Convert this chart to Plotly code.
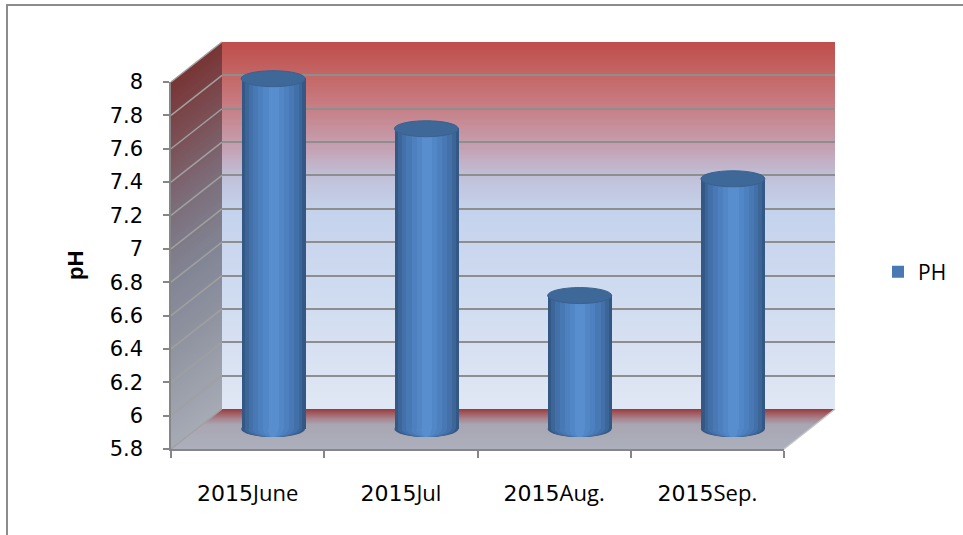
import plotly.graph_objects as go
import numpy as np

# ---------------- data ----------------
categories = ["2015June", "2015Jul", "2015Aug.", "2015Sep."]
label_years = ["2015", "2015", "2015", "2015"]
label_months = ["June", "Jul", "Aug.", "Sep."]
ph_values = [7.9, 7.6, 6.6, 7.3]
series_name = "PH"
y_ticks = [5.8, 6.0, 6.2, 6.4, 6.6, 6.8, 7.0, 7.2, 7.4, 7.6, 7.8, 8.0]
y_min, y_max = 5.8, 8.0
y_title = "pH"

# ---------------- geometry (pixels) ----------------
W, H = 963, 535
def px(x): return x / W
def py(y): return 1 - y / H

FRONT_L, FRONT_R = 171, 784
FRONT_BOT, FRONT_TOP = 449, 82
DX, DY = 51, -40
UNIT = (FRONT_BOT - FRONT_TOP) / (y_max - y_min)
CAT_W = (FRONT_R - FRONT_L) / len(categories)

def yf(v, depth=0.0):
    return FRONT_BOT - (v - y_min) * UNIT + DY * depth

def rgb(c):
    return "rgb(%d,%d,%d)" % tuple(int(round(x)) for x in c)

def interp(stops, t):
    for (p0, c0), (p1, c1) in zip(stops[:-1], stops[1:]):
        if p0 <= t <= p1:
            f = 0 if p1 == p0 else (t - p0) / (p1 - p0)
            return tuple(a + (b - a) * f for a, b in zip(c0, c1))
    return stops[-1][1] if t > stops[-1][0] else stops[0][1]

back_stops = [(0.0, (224, 231, 244)), (0.295, (208, 220, 240)), (0.545, (197, 210, 236)),
              (0.636, (192, 192, 216)), (0.705, (196, 163, 181)), (0.818, (199, 128, 134)),
              (0.909, (196, 102, 102)), (1.0, (190, 78, 76))]
side_stops = [(0.0, (165, 170, 181)), (0.23, (146, 151, 163)), (0.45, (130, 132, 147)),
              (0.64, (124, 110, 123)), (0.82, (123, 80, 86)), (1.0, (120, 52, 52))]
floor_stops = [(0.0, (172, 176, 188)), (0.6, (168, 166, 178)), (0.75, (168, 130, 140)),
               (0.9, (160, 86, 90)), (1.0, (150, 56, 56))]

shapes = []

# side wall (gradient strips)
n_side = 88
for i in range(n_side):
    a = y_min + (y_max - y_min) * i / n_side
    b = y_min + (y_max - y_min) * (i + 1.3) / n_side
    b = min(b, y_max)
    col = interp(side_stops, (a - y_min) / (y_max - y_min))
    path = "M %f %f L %f %f L %f %f L %f %f Z" % (
        px(FRONT_L), py(yf(a)), px(FRONT_L + DX), py(yf(a, 1)),
        px(FRONT_L + DX), py(yf(b, 1)), px(FRONT_L), py(yf(b)))
    shapes.append(dict(type="path", path=path, xref="paper", yref="paper",
                       fillcolor=rgb(col), line=dict(width=0), layer="below"))

# floor (gradient strips by depth)
n_floor = 40
for i in range(n_floor):
    t0 = i / n_floor
    t1 = min((i + 1.3) / n_floor, 1.0)
    col = interp(floor_stops, t0)
    path = "M %f %f L %f %f L %f %f L %f %f Z" % (
        px(FRONT_L + DX * t0), py(yf(y_min, t0)), px(FRONT_R + DX * t0), py(yf(y_min, t0)),
        px(FRONT_R + DX * t1), py(yf(y_min, t1)), px(FRONT_L + DX * t1), py(yf(y_min, t1)))
    shapes.append(dict(type="path", path=path, xref="paper", yref="paper",
                       fillcolor=rgb(col), line=dict(width=0), layer="below"))

# floor right edge
shapes.append(dict(type="line", xref="paper", yref="paper",
                   x0=px(FRONT_R), y0=py(yf(y_min)), x1=px(FRONT_R + DX), y1=py(yf(y_min, 1)),
                   line=dict(color="#c4c4c4", width=1.5), layer="below"))

# side wall grid lines
for v in y_ticks:
    shapes.append(dict(type="line", xref="paper", yref="paper",
                       x0=px(FRONT_L), y0=py(yf(v)), x1=px(FRONT_L + DX), y1=py(yf(v, 1)),
                       line=dict(color="#a0a0a0", width=1.5), layer="below"))

# outer border
shapes.append(dict(type="rect", xref="paper", yref="paper",
                   x0=px(7), y0=-0.05, x1=1.05, y1=py(5),
                   line=dict(color="#8c8c8c", width=2), fillcolor="rgba(0,0,0,0)", layer="below"))

# cylinders
cyl_w = 64 / CAT_W
ell_h = 16 / UNIT
xs = list(range(len(categories)))
layers = [(1.00, (52, 88, 134)), (0.90, (60, 101, 152)), (0.78, (67, 112, 168)),
          (0.64, (72, 121, 181)), (0.48, (77, 128, 190)), (0.32, (82, 135, 199)),
          (0.16, (88, 142, 206))]

traces = []
# back wall gradient heatmap (subplot x/y = back plane)
edges = np.linspace(y_min, y_max, 221)
mids = (edges[:-1] + edges[1:]) / 2
traces.append(go.Heatmap(
    x=[-0.5, 3.5], y=edges, z=[[m] for m in mids],
    zmin=y_min, zmax=y_max, showscale=False, hoverinfo="skip",
    colorscale=[[p, rgb(c)] for p, c in back_stops], xaxis="x", yaxis="y"))
# back gridlines subplot (invisible trace)
traces.append(go.Scatter(x=[0], y=[y_min], mode="markers", marker=dict(opacity=0),
                         showlegend=False, hoverinfo="skip", xaxis="x2", yaxis="y2"))

for frac, col in layers:
    traces.append(go.Bar(
        x=xs, y=[v - y_min for v in ph_values], base=y_min, width=cyl_w * frac,
        marker=dict(color=rgb(col), line=dict(width=0)),
        name=series_name, showlegend=(frac == 0.64), hoverinfo="skip",
        xaxis="x3", yaxis="y3"))
    for i, v in enumerate(ph_values):
        shapes.append(dict(type="circle", xref="x3", yref="y3",
                           x0=i - cyl_w * frac / 2, x1=i + cyl_w * frac / 2,
                           y0=y_min - ell_h / 2, y1=y_min + ell_h / 2,
                           fillcolor=rgb(col), line=dict(width=0), layer="between"))
for i, v in enumerate(ph_values):
    shapes.append(dict(type="circle", xref="x3", yref="y3",
                       x0=i - cyl_w / 2, x1=i + cyl_w / 2,
                       y0=v - ell_h / 2, y1=v + ell_h / 2,
                       fillcolor="#3e6898", line=dict(color="#3a6190", width=1), layer="above"))

# front axes trace (invisible)
tick_labels = ["%s<span style=\"font-family:'Open Sans'\">%s</span>" % (yr, m)
               for yr, m in zip(label_years, label_months)]
traces.append(go.Scatter(x=tick_labels, y=ph_values, mode="markers", marker=dict(opacity=0),
                         showlegend=False, hoverinfo="skip", xaxis="x4", yaxis="y4"))

fig = go.Figure(data=traces)

back_x = [px(FRONT_L + DX), px(FRONT_R + DX)]
back_y = [py(yf(y_min, 1)), py(yf(y_max, 1))]
mid_x = [px(FRONT_L + DX / 2), px(FRONT_R + DX / 2)]
mid_bot = yf(y_min, 0.5) + 0.2 * UNIT
mid_top = yf(y_min, 0.5) - 2.3 * UNIT
hidden = dict(visible=False, fixedrange=True)

fig.update_layout(
    width=W, height=H, autosize=False,
    margin=dict(l=0, r=0, t=0, b=0, pad=0, autoexpand=False),
    paper_bgcolor="white", plot_bgcolor="rgba(0,0,0,0)",
    barmode="overlay", bargap=0,
    xaxis=dict(domain=back_x, range=[-0.5, 3.5], anchor="y", **hidden),
    yaxis=dict(domain=back_y, range=[y_min, y_max], anchor="x", **hidden),
    xaxis2=dict(domain=back_x, range=[-0.5, 3.5], anchor="y2", showgrid=False,
                showticklabels=False, zeroline=False, showline=False, ticks="",
                automargin=False),
    yaxis2=dict(domain=back_y, range=[y_min, y_max], anchor="x2", showgrid=True,
                gridcolor="#8e8e8e", gridwidth=2, tickmode="array", tickvals=y_ticks,
                showticklabels=False, zeroline=False, showline=False, ticks="",
                automargin=False),
    xaxis3=dict(domain=mid_x, range=[-0.5, 3.5], anchor="y3", **hidden),
    yaxis3=dict(domain=[py(mid_bot), py(mid_top)], range=[y_min - 0.2, y_max + 0.1],
                anchor="x3", **hidden),
    xaxis4=dict(domain=[px(FRONT_L), px(FRONT_R)], range=[-0.5, 3.5], anchor="y4",
                type="category", tickson="boundaries", ticks="outside", ticklen=7,
                tickcolor="#868686", tickwidth=1.5, showline=True, linecolor="#868686",
                linewidth=1.5, showgrid=False, zeroline=False, ticklabelstandoff=24,
                automargin=False,
                tickfont=dict(family="DejaVu Sans", size=22, color="#000000")),
    yaxis4=dict(domain=[py(FRONT_BOT), py(FRONT_TOP)], range=[y_min, y_max], anchor="x4",
                tickmode="array", tickvals=y_ticks, ticktext=["%g" % v for v in y_ticks],
                ticks="outside", ticklen=6, tickcolor="#868686", tickwidth=1.5,
                showline=True, linecolor="#868686", linewidth=1.5, showgrid=False,
                zeroline=False, ticklabelstandoff=16, automargin=False,
                tickfont=dict(family="DejaVu Sans", size=21, color="#000000")),
    shapes=shapes,
    showlegend=True,
    legend=dict(x=px(878), y=py(272), xanchor="left", yanchor="middle",
                bgcolor="rgba(0,0,0,0)", borderwidth=0,
                font=dict(family="Open Sans", size=21, color="#000000")),
    annotations=[dict(text="<b>%s</b>" % y_title, xref="paper", yref="paper",
                      x=px(75), y=py(266), xanchor="center", yanchor="middle",
                      showarrow=False, textangle=-90,
                      font=dict(family="Liberation Sans", size=22, color="#000000"))],
)

fig.write_html("out.html")
